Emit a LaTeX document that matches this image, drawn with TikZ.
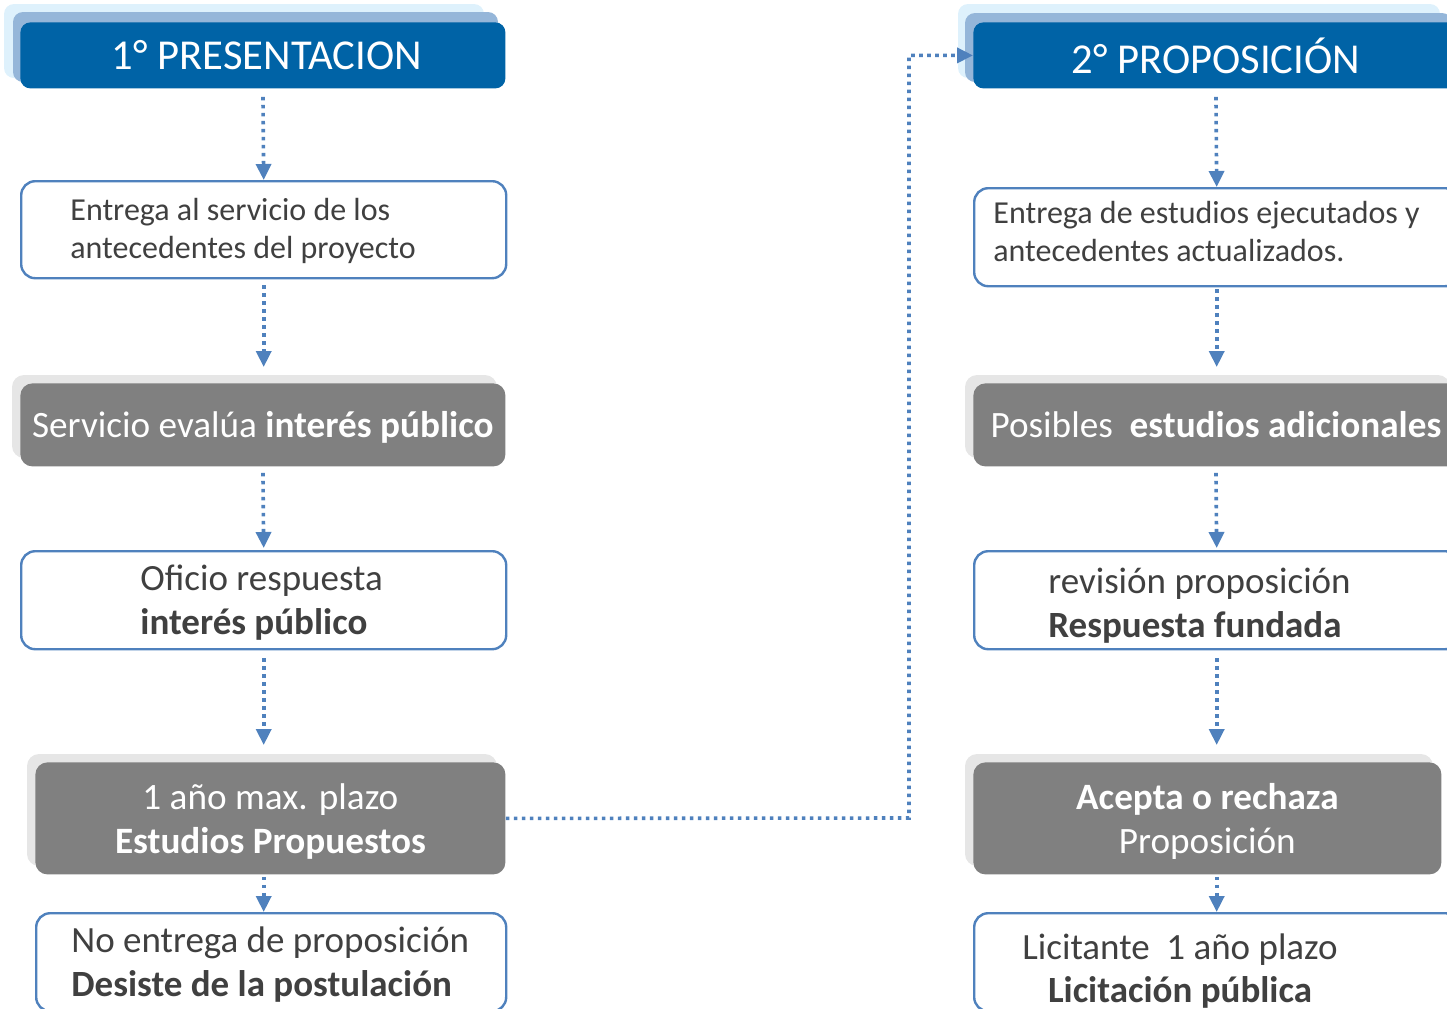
\documentclass[tikz,border=0pt]{standalone}
\usepackage{fontspec}
\setmainfont{Carlito}
\usetikzlibrary{arrows.meta}
\definecolor{hdrblue}{RGB}{0,99,166}
\definecolor{hdrmid}{RGB}{149,182,217}
\definecolor{hdrlight}{RGB}{222,241,252}
\definecolor{linkblue}{RGB}{79,129,189}
\definecolor{boxgray}{RGB}{128,128,128}
\definecolor{shadowgray}{RGB}{230,230,230}
\definecolor{txtgray}{RGB}{64,64,64}
\tikzset{
  hdr/.style={fill=hdrblue, rounded corners=5pt, inner sep=0pt, anchor=north west,
    minimum width=242.5pt, minimum height=33pt, text=white, text depth=0pt,
    font=\fontsize{21.3}{25}\selectfont},
  hdrshadowmid/.style={fill=hdrmid, rounded corners=5pt},
  hdrshadowlight/.style={fill=hdrlight, rounded corners=5pt},
  wbox/.style={draw=linkblue, line width=1.2pt, fill=white, rounded corners=7pt,
    inner sep=0pt, anchor=north west, minimum width=242.5pt, minimum height=49pt},
  gbox/.style={fill=boxgray, rounded corners=6pt, inner sep=0pt, anchor=north west,
    minimum width=242.5pt, minimum height=41.5pt, text=white, align=center, text depth=0pt,
    font=\fontsize{18.6}{22}\selectfont},
  gshadow/.style={fill=shadowgray, rounded corners=6pt},
  lblsmall/.style={inner sep=0pt, align=left, text=txtgray, font=\fontsize{16}{19}\selectfont},
  lbl/.style={inner sep=0pt, align=left, text=txtgray, font=\fontsize{18.5}{22}\selectfont},
  lblc/.style={inner sep=0pt, align=center, text=txtgray, font=\fontsize{18.5}{21.5}\selectfont},
  link/.style={draw=linkblue, line width=1.8pt, dash pattern=on 1.8pt off 2.2pt,
    -{Triangle[width=7.5pt,length=8pt]}},
}
\begin{document}
\begin{tikzpicture}[x=0.5pt,y=-0.5pt]
\useasboundingbox (0,0) rectangle (1447,1008);
% ---------- left column ----------
\fill[hdrshadowlight] (4,4) rectangle (484,78);
\fill[hdrshadowmid] (13,12) rectangle (498,82);
\node[hdr] (h1) at (20,22) {\hspace*{4pt}1° PRESENTACION};

\node[wbox, minimum height=48.5pt] (b2) at (20,180) {};
\node[lblsmall, anchor=west] (t2) at (70,231) {Entrega al servicio de los\\antecedentes del proyecto};

\fill[gshadow] (12,375) rectangle (497,458);
\node[gbox] (g3) at (20,383) {Servicio evalúa \textbf{interés público}};

\node[wbox] (b4) at (20,550) {};
\node[lbl, anchor=west] (t4) at (140,603) {Oficio respuesta\\\textbf{interés público}};

\fill[gshadow] (27,754) rectangle (497,866);
\node[gbox, minimum width=235pt, minimum height=56pt] (g5) at (35,762) {1 año max. plazo\\\textbf{Estudios Propuestos}};

\node[wbox, minimum width=235pt] (b6) at (35,912) {};
\node[lbl, anchor=west] (t6) at (71,964.5) {No entrega de proposición\\\textbf{Desiste de la postulación}};

% ---------- right column ----------
\fill[hdrshadowlight] (958,4) rectangle (1440,78);
\fill[hdrshadowmid] (965,13) rectangle (1452,82);
\node[hdr] (h2) at (973,22) {2° PROPOSICIÓN};

\node[wbox, minimum height=49pt] (r2) at (973,187) {};
\node[lblsmall, anchor=west] (tr2) at (993,232) {Entrega de estudios ejecutados y\\antecedentes actualizados.};

\fill[gshadow] (965,375) rectangle (1450,458);
\node[gbox] (rg3) at (973,383) {Posibles\ \ \textbf{estudios adicionales}};

\node[wbox] (r4) at (973,550) {};
\node[lbl, anchor=west] (tr4) at (1048,606) {revisión proposición\\\textbf{Respuesta fundada}};

\fill[gshadow] (965,754) rectangle (1433,866);
\node[gbox, minimum width=234pt, minimum height=56pt] (rg5) at (973,762) {\textbf{Acepta o rechaza}\\Proposición};

\node[wbox] (r6) at (973,912) {};
\node[lblc] (tr6) at (1180,971) {Licitante\ \ 1 año plazo\\\textbf{Licitación pública}};

% ---------- connectors ----------
\draw[link, shorten <=4pt] (h1.south) -- (b2.north);
\draw[link, shorten <=3pt, shorten >=8pt] (b2.south) -- (b2.south |- g3.north);
\draw[link, shorten <=3pt, shorten >=1pt] (g3.south) -- (b4.north);
\draw[link, shorten <=4pt, shorten >=8.5pt] (b4.south) -- (b4.south |- g5.north);
\draw[link, shorten <=1pt] (g5.south -| b4.south) -- (b6.north -| b4.south);

\draw[link, shorten <=4pt] (h2.south) -- (r2.north);
\draw[link, shorten <=1pt, shorten >=8pt] (r2.south) -- (r2.south |- rg3.north);
\draw[link, shorten <=3pt, shorten >=1pt] (rg3.south) -- (r4.north);
\draw[link, shorten <=4pt, shorten >=8.5pt] (r4.south) -- (r4.south |- rg5.north);
\draw[link, shorten <=1pt] (r6.north |- rg5.south) -- (r6.north);

\coordinate (bend) at (909,818);
\draw[link] (g5.east) -- (bend) |- (h2.west);
\end{tikzpicture}
\end{document}
